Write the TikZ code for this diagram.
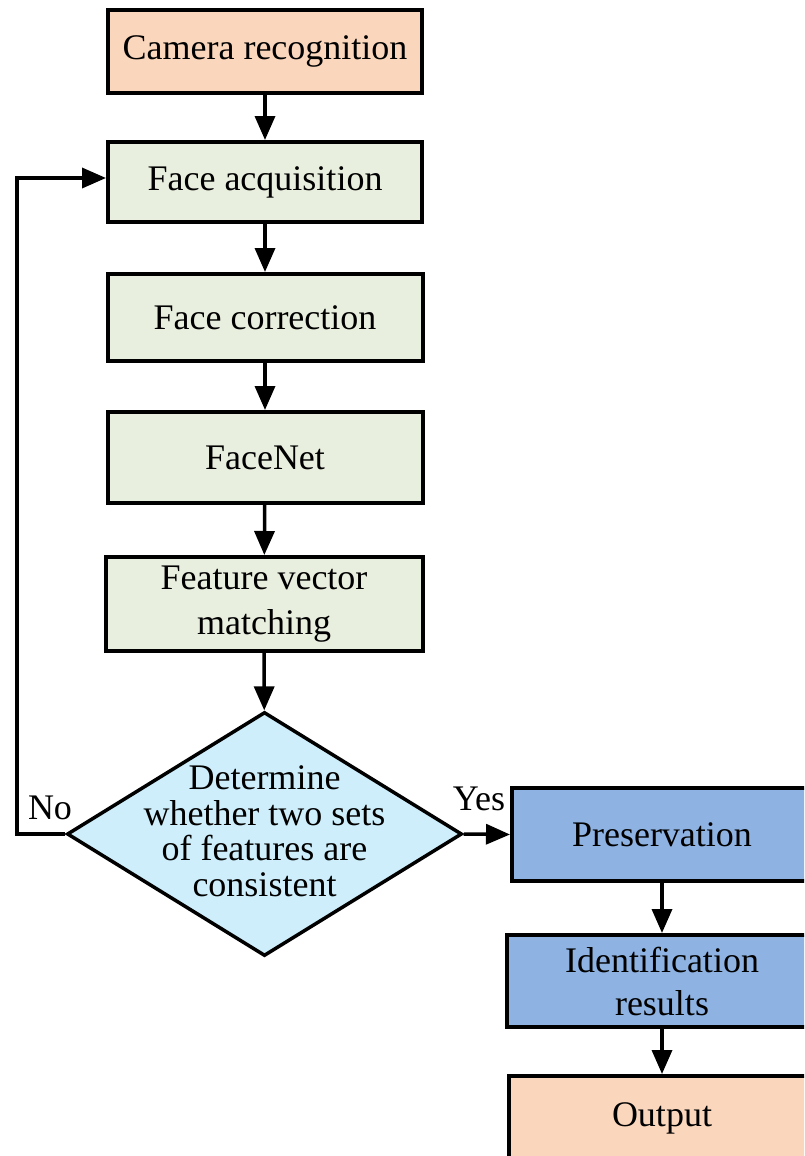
\documentclass[tikz,border=0pt]{standalone}
\usepackage{fontspec}
\setmainfont{Liberation Serif}
\usetikzlibrary{shapes.geometric,arrows.meta}

\definecolor{peach}{HTML}{FAD6BC}
\definecolor{sage}{HTML}{E9EFDE}
\definecolor{sky}{HTML}{CDEEFA}
\definecolor{steel}{HTML}{8EB3E3}

\tikzset{
  box/.style={draw=black, line width=4pt, rectangle, align=center,
    inner sep=0pt, font=\fontsize{36}{43}\selectfont},
  decision/.style={draw=black, line width=3.5pt, diamond, fill=sky,
    inner sep=0pt, minimum width=395pt, minimum height=244pt},
  flow/.style={line width=3.5pt, -{Triangle[length=24pt,width=20pt]}},
  tag/.style={inner sep=0pt, font=\fontsize{36}{43}\selectfont}
}

\begin{document}
\begin{tikzpicture}[x=1pt, y=-1pt]
  \useasboundingbox (0,0) rectangle (804,1156);
  \clip (0,0) rectangle (804,1156);
  \fill[white] (0,0) rectangle (804,1156);

  % main column
  \node[box, fill=peach, minimum width=314pt, minimum height=83pt] (cam) at (265,51.5) {Camera recognition};
  \node[box, fill=sage, minimum width=314pt, minimum height=80pt] (acq) at (265,182) {Face acquisition};
  \node[box, fill=sage, minimum width=315pt, minimum height=87pt] (corr) at (265,317.5) {Face correction};
  \node[box, fill=sage, minimum width=315pt, minimum height=91pt] (net) at (265,457.5) {FaceNet};
  \node[box, fill=sage, minimum width=317pt, minimum height=94pt, font=\fontsize{36}{45}\selectfont] (match) at (264,604) {Feature vector\\matching};

  % decision
  \node[decision] (dec) at (264.5,834) {};
  \node[align=center, inner sep=0pt, font=\fontsize{36}{35.5}\selectfont] (dectext) at (264.5,831)
    {Determine\\whether two sets\\of features are\\consistent};

  % right column
  \node[box, fill=steel, minimum width=300pt, minimum height=93pt] (pres) at (662,834.5) {Preservation};
  \node[box, fill=steel, minimum width=310pt, minimum height=92pt] (ident) at (662,981) {Identification\\results};
  \node[box, fill=peach, minimum width=306pt, minimum height=84pt] (out) at (662,1118) {Output};

  % connectors
  \draw[flow] (cam) -- (acq);
  \draw[flow] (acq) -- (corr);
  \draw[flow] (corr) -- (net);
  \draw[flow] (net) -- (match);
  \draw[flow] (match) -- (dec);
  \draw[flow] (dec.east) -- (pres.west);
  \draw[flow] (pres) -- (ident);
  \draw[flow] (ident) -- (out);

  \coordinate (loopbottom) at (17,834);
  \coordinate (looptop) at (17,178);
  \draw[flow] (dec.west) -- (loopbottom) -- (looptop) -- (acq.west |- looptop);

  % branch labels
  \node[tag] (no) at (50,808) {No};
  \node[tag] (yes) at (479,799) {Yes};
\end{tikzpicture}
\end{document}
